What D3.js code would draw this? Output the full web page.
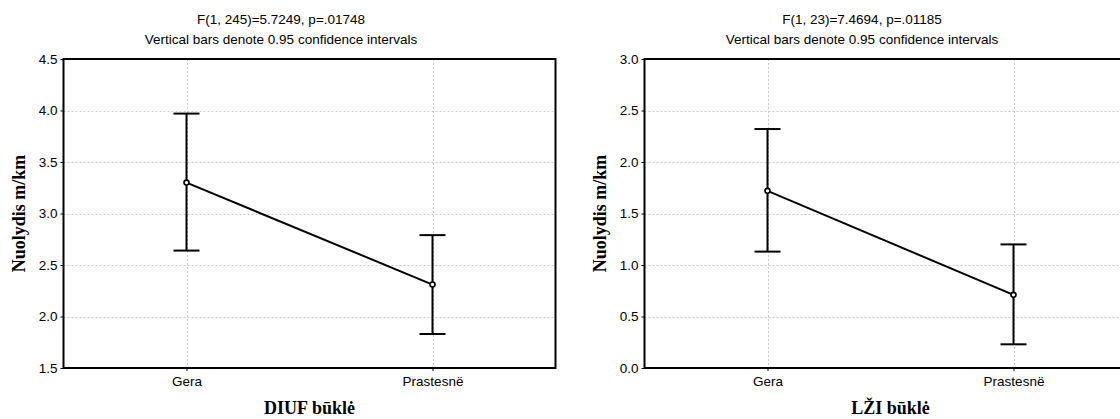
<!DOCTYPE html>
<html>
<head>
<meta charset="utf-8">
<script src="https://d3js.org/d3.v7.min.js"></script>
<style>
  body { margin: 0; background: #fff; }
  svg { display: block; }
  .tick text { font-family: Arial, "Liberation Sans", sans-serif; font-size: 13.5px; fill: #000; }
</style>
</head>
<body>
<svg width="1120" height="419"></svg>
<script>
  // data
  var categories = ['Gera', 'Prastesnë'];

  var titlesA = ['F(1, 245)=5.7249, p=.01748', 'Vertical bars denote 0.95 confidence intervals'];
  var meansA = [3.30, 2.31];
  var lowA = [2.64, 1.83];
  var highA = [3.97, 2.79];
  var yTicksA = [1.5, 2.0, 2.5, 3.0, 3.5, 4.0, 4.5];
  var xTitleA = 'DIUF būklė';

  var titlesB = ['F(1, 23)=7.4694, p=.01185', 'Vertical bars denote 0.95 confidence intervals'];
  var meansB = [1.72, 0.71];
  var lowB = [1.13, 0.23];
  var highB = [2.32, 1.20];
  var yTicksB = [0.0, 0.5, 1.0, 1.5, 2.0, 2.5, 3.0];
  var xTitleB = 'LŽI būklė';

  var yTitle = 'Nuolydis m/km';

  var svg = d3.select('svg');

  function panel(offsetX, titles, means, low, high, yTicks, xTitle) {
    var g = svg.append('g').attr('transform', 'translate(' + offsetX + ',0)');
    var left = 63.5, top = 59, w = 492, h = 309;

    var x = d3.scaleLinear().domain([0.5, 2.5]).range([left, left + w]);
    var y = d3.scaleLinear().domain([yTicks[0], yTicks[yTicks.length - 1]]).range([top + h, top]);

    // grid
    g.append('g').selectAll('line.hg')
      .data(yTicks.slice(1, -1))
      .enter().append('line')
      .attr('x1', left).attr('x2', left + w)
      .attr('y1', function(d) { return Math.round(y(d)) + 0.5; })
      .attr('y2', function(d) { return Math.round(y(d)) + 0.5; })
      .attr('stroke', '#c8c8c8').attr('stroke-dasharray', '2,2');
    g.append('g').selectAll('line.vg')
      .data(categories)
      .enter().append('line')
      .attr('x1', function(d, i) { return Math.round(x(i + 1)) + 0.5; })
      .attr('x2', function(d, i) { return Math.round(x(i + 1)) + 0.5; })
      .attr('y1', top).attr('y2', top + h)
      .attr('stroke', '#c8c8c8').attr('stroke-dasharray', '2,2');

    // axes
    var yAxis = d3.axisLeft(y).tickValues(yTicks).tickFormat(d3.format('.1f')).tickSize(3).tickPadding(3);
    var ya = g.append('g').attr('transform', 'translate(' + left + ',0)').call(yAxis);
    ya.select('.domain').remove();

    var xAxis = d3.axisBottom(x).tickValues([1, 2])
      .tickFormat(function(d) { return categories[d - 1]; }).tickSize(3).tickPadding(5);
    var xa = g.append('g').attr('transform', 'translate(0,' + (top + h) + ')').call(xAxis);
    xa.select('.domain').remove();

    // frame
    g.append('rect')
      .attr('x', left).attr('y', top).attr('width', w).attr('height', h)
      .attr('fill', 'none').attr('stroke', '#000').attr('stroke-width', 2);

    // error bars
    var bars = g.append('g');
    categories.forEach(function(c, i) {
      var cx = x(i + 1);
      bars.append('line').attr('x1', cx).attr('x2', cx)
        .attr('y1', y(low[i])).attr('y2', y(high[i]))
        .attr('stroke', '#000').attr('stroke-width', 2);
      [low[i], high[i]].forEach(function(v) {
        bars.append('line').attr('x1', cx - 13).attr('x2', cx + 13)
          .attr('y1', y(v)).attr('y2', y(v))
          .attr('stroke', '#000').attr('stroke-width', 2);
      });
    });

    // mean line
    var line = d3.line()
      .x(function(d, i) { return x(i + 1); })
      .y(function(d) { return y(d); });
    g.append('path').datum(means)
      .attr('d', line).attr('fill', 'none')
      .attr('stroke', '#000').attr('stroke-width', 2);

    g.selectAll('circle.pt')
      .data(means)
      .enter().append('circle')
      .attr('cx', function(d, i) { return x(i + 1); })
      .attr('cy', function(d) { return y(d); })
      .attr('r', 2.5)
      .attr('fill', '#fff').attr('stroke', '#000').attr('stroke-width', 1.6);

    // titles
    g.append('text').attr('x', 281).attr('y', 23.5).attr('text-anchor', 'middle')
      .style('font-family', 'Arial, "Liberation Sans", sans-serif').style('font-size', '13.5px')
      .text(titles[0]);
    g.append('text').attr('x', 281).attr('y', 43.5).attr('text-anchor', 'middle')
      .style('font-family', 'Arial, "Liberation Sans", sans-serif').style('font-size', '13.5px')
      .text(titles[1]);

    g.append('text').attr('x', left + w / 2).attr('y', 414).attr('text-anchor', 'middle')
      .style('font-family', '"Times New Roman", "Liberation Serif", serif').style('font-size', '18px')
      .style('font-weight', 'bold')
      .text(xTitle);

    g.append('text')
      .attr('transform', 'translate(25,' + (top + h / 2) + ') rotate(-90)')
      .attr('text-anchor', 'middle')
      .style('font-family', '"Times New Roman", "Liberation Serif", serif').style('font-size', '18px')
      .style('font-weight', 'bold')
      .text(yTitle);
  }

  panel(0, titlesA, meansA, lowA, highA, yTicksA, xTitleA);
  panel(581, titlesB, meansB, lowB, highB, yTicksB, xTitleB);
</script>
</body>
</html>
